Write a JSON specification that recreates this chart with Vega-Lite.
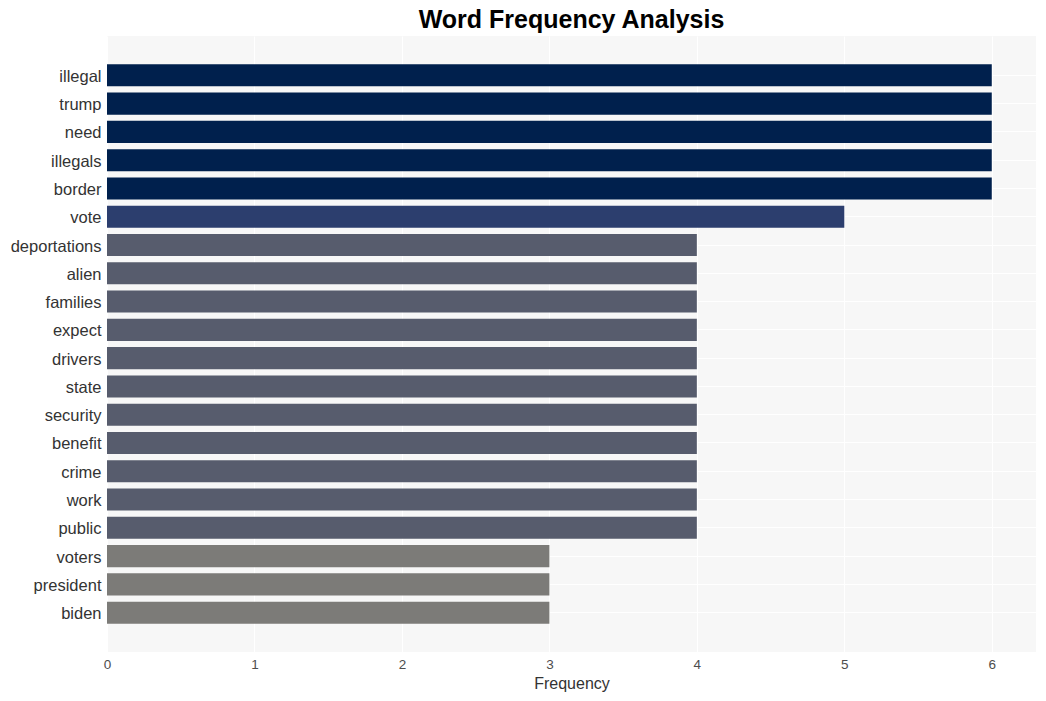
{
  "$schema": "https://vega.github.io/schema/vega-lite/v6.json",
  "width": 929,
  "height": 616,
  "autosize": "none",
  "padding": {"left": 107, "top": 36, "right": 10, "bottom": 49},
  "background": "white",
  "title": {
    "text": "Word Frequency Analysis",
    "fontSize": 25,
    "font": "Liberation Sans",
    "fontWeight": "bold",
    "color": "#000000",
    "anchor": "middle",
    "offset": 3
  },
  "data": {
    "values": [
      {"word": "illegal", "freq": 6},
      {"word": "trump", "freq": 6},
      {"word": "need", "freq": 6},
      {"word": "illegals", "freq": 6},
      {"word": "border", "freq": 6},
      {"word": "vote", "freq": 5},
      {"word": "deportations", "freq": 4},
      {"word": "alien", "freq": 4},
      {"word": "families", "freq": 4},
      {"word": "expect", "freq": 4},
      {"word": "drivers", "freq": 4},
      {"word": "state", "freq": 4},
      {"word": "security", "freq": 4},
      {"word": "benefit", "freq": 4},
      {"word": "crime", "freq": 4},
      {"word": "work", "freq": 4},
      {"word": "public", "freq": 4},
      {"word": "voters", "freq": 3},
      {"word": "president", "freq": 3},
      {"word": "biden", "freq": 3}
    ]
  },
  "config": {
    "view": {"fill": "#f7f7f7", "stroke": null},
    "font": "Liberation Sans"
  },
  "mark": {"type": "bar"},
  "encoding": {
    "y": {
      "field": "word",
      "type": "nominal",
      "sort": null,
      "scale": {"paddingInner": 0.22, "paddingOuter": 1.0},
      "axis": {
        "title": null,
        "domain": false,
        "ticks": false,
        "labelFontSize": 16.5,
        "labelColor": "#333333",
        "labelPadding": 6,
        "labelOffset": 1.5,
        "grid": true,
        "gridColor": "#ffffff",
        "gridWidth": 1
      }
    },
    "x": {
      "field": "freq",
      "type": "quantitative",
      "scale": {"domain": [0, 6.3], "nice": false},
      "axis": {
        "title": "Frequency",
        "titleFontSize": 16,
        "titleFontWeight": "normal",
        "titleColor": "#333333",
        "titlePadding": 5,
        "values": [0, 1, 2, 3, 4, 5, 6],
        "format": "d",
        "domain": false,
        "ticks": false,
        "labelFlush": false,
        "labelFontSize": 13.5,
        "labelColor": "#4d4d4d",
        "labelPadding": 5,
        "grid": true,
        "gridColor": "#ffffff",
        "gridWidth": 1
      }
    },
    "color": {
      "field": "freq",
      "type": "ordinal",
      "scale": {"domain": [3, 4, 5, 6], "range": ["#7c7b78", "#575c6d", "#2c3e6e", "#00204d"]},
      "legend": null
    }
  }
}
